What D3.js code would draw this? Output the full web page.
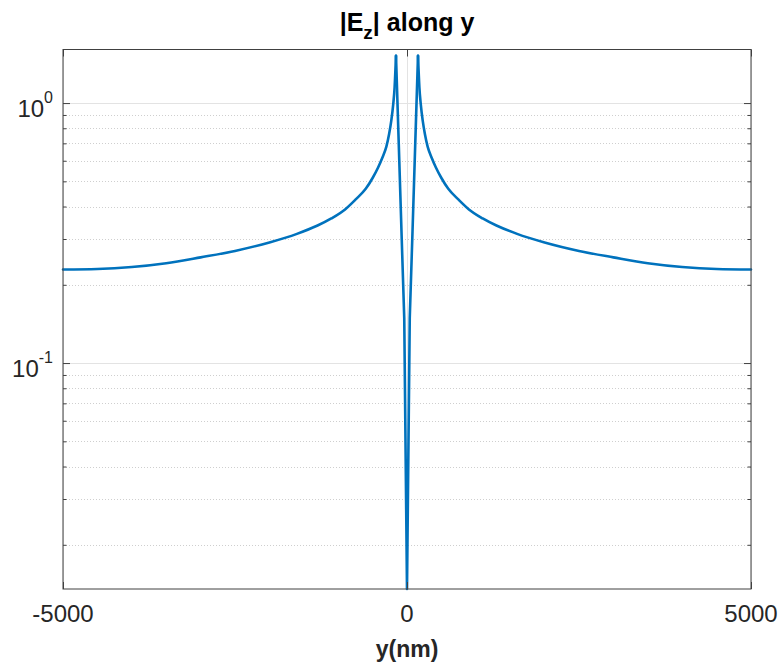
<!DOCTYPE html>
<html>
<head>
<meta charset="utf-8">
<script src="https://cdn.jsdelivr.net/npm/d3@7"></script>
<style>
  html, body { margin: 0; padding: 0; background: #fff; }
  svg { display: block; font-family: "Liberation Sans", Arial, Helvetica, sans-serif; }
</style>
</head>
<body>
<svg id="chart" width="780" height="666"></svg>
<script>
// Position along y (nm) and field magnitude |Ez|
const positions = [
  -5000, -4500, -4000, -3500, -3000, -2500, -2000, -1600, -1300, -1100,
  -900, -750, -600, -500, -420, -360, -300, -260, -230, -200, -180, -160,
  -120, -80, -40, 0,
  40, 80, 120,
  160, 180, 200, 230, 260, 300, 360, 420, 500, 600, 750, 900,
  1100, 1300, 1600, 2000, 2500, 3000, 3500, 4000, 4500, 5000
];
const ezMagnitude = [
  0.229, 0.230, 0.234, 0.242, 0.255, 0.270, 0.291, 0.314, 0.338, 0.360,
  0.390, 0.425, 0.468, 0.515, 0.565, 0.615, 0.680, 0.760, 0.850, 0.990, 1.15, 1.52,
  0.70, 0.32, 0.149, 0.01352,
  0.149, 0.32, 0.70,
  1.52, 1.15, 0.990, 0.850, 0.760, 0.680, 0.615, 0.565, 0.515, 0.468, 0.425, 0.390,
  0.360, 0.338, 0.314, 0.291, 0.270, 0.255, 0.242, 0.234, 0.230, 0.229
];
// the two field peaks bounding the central gap (nm)
const peakPositions = [-160, 160];

const xTicks = [-5000, 0, 5000];
const xTickLabels = ["-5000", "0", "5000"];
const yMajorTicks = [0.1, 1];
const yMajorExponents = ["-1", "0"];
const yMinorTicks = [0.02, 0.03, 0.04, 0.05, 0.06, 0.07, 0.08, 0.09,
                     0.2, 0.3, 0.4, 0.5, 0.6, 0.7, 0.8, 0.9];
const xDomain = [-5000, 5000];
const yDomain = [0.01352, 1.607];

const titleMain = "|E";
const titleSub = "z";
const titleRest = "| along y";
const xLabel = "y(nm)";

const svg = d3.select("#chart");
const plotL = 63, plotR = 751, plotT = 49.5, plotB = 589;
const axisColor = "#404040";
const textColor = "#262626";

const x = d3.scaleLinear().domain(xDomain).range([plotL, plotR]);
const y = d3.scaleLog().domain(yDomain).range([plotB, plotT]);

// grid: minor dotted, major solid
const grid = svg.append("g");
grid.selectAll("line.minor").data(yMinorTicks).enter().append("line")
  .attr("x1", plotL).attr("x2", plotR)
  .attr("y1", d => Math.round(y(d)) + 0.5).attr("y2", d => Math.round(y(d)) + 0.5)
  .attr("stroke", "#cfcfcf").attr("stroke-width", 1).attr("stroke-dasharray", "1,2");
grid.selectAll("line.major").data(yMajorTicks).enter().append("line")
  .attr("x1", plotL).attr("x2", plotR)
  .attr("y1", d => Math.round(y(d)) + 0.5).attr("y2", d => Math.round(y(d)) + 0.5)
  .attr("stroke", "#e3e3e3").attr("stroke-width", 1);
grid.selectAll("line.xg").data(xTicks).enter().append("line")
  .attr("x1", d => Math.round(x(d)) + 0.5).attr("x2", d => Math.round(x(d)) + 0.5)
  .attr("y1", plotT).attr("y2", plotB)
  .attr("stroke", "#e3e3e3").attr("stroke-width", 1);

// curve: smooth outer flanks, straight segments across the central gap
const pts = positions.map((p, i) => ({ p, v: ezMagnitude[i] }));
const outerLeft = pts.filter(d => d.p <= peakPositions[0]);
const inner = pts.filter(d => d.p >= peakPositions[0] && d.p <= peakPositions[1]);
const outerRight = pts.filter(d => d.p >= peakPositions[1]);

const smooth = d3.line().x(d => x(d.p)).y(d => y(d.v)).curve(d3.curveMonotoneX);
const straight = d3.line().x(d => x(d.p)).y(d => y(d.v));

[[outerLeft, smooth], [inner, straight], [outerRight, smooth]].forEach(([seg, gen]) => {
  svg.append("path")
    .datum(seg)
    .attr("d", gen)
    .attr("fill", "none")
    .attr("stroke", "#0072BD")
    .attr("stroke-width", 2.6)
    .attr("stroke-linejoin", "round")
    .attr("stroke-linecap", "round");
});

// axes with inward ticks
function styleAxis(g) {
  g.select(".domain").remove();
  g.selectAll(".tick line").attr("stroke", axisColor);
  g.selectAll(".tick text").remove();
}
svg.append("g").attr("transform", `translate(${plotL},0)`)
  .call(d3.axisLeft(y).tickValues(yMajorTicks).tickSize(-7)).call(styleAxis);
svg.append("g").attr("transform", `translate(${plotL},0)`)
  .call(d3.axisLeft(y).tickValues(yMinorTicks).tickSize(-3.5)).call(styleAxis);
svg.append("g").attr("transform", `translate(${plotR},0)`)
  .call(d3.axisRight(y).tickValues(yMajorTicks).tickSize(-7)).call(styleAxis);
svg.append("g").attr("transform", `translate(${plotR},0)`)
  .call(d3.axisRight(y).tickValues(yMinorTicks).tickSize(-3.5)).call(styleAxis);
svg.append("g").attr("transform", `translate(0,${plotB})`)
  .call(d3.axisBottom(x).tickValues(xTicks).tickSize(-7)).call(styleAxis);
svg.append("g").attr("transform", `translate(0,${plotT})`)
  .call(d3.axisTop(x).tickValues(xTicks).tickSize(-7)).call(styleAxis);

// box
svg.append("rect")
  .attr("x", plotL).attr("y", plotT)
  .attr("width", plotR - plotL).attr("height", plotB - plotT)
  .attr("fill", "none").attr("stroke", axisColor).attr("stroke-width", 1);

// y tick labels as powers of ten
yMajorTicks.forEach((v, i) => {
  const t = svg.append("text")
    .attr("x", 53).attr("y", y(v) + 14)
    .attr("text-anchor", "end")
    .attr("fill", textColor)
    .attr("font-size", 24);
  t.append("tspan").text("10");
  t.append("tspan").attr("dy", -14).attr("font-size", 16).text(yMajorExponents[i]);
});

// x tick labels
svg.selectAll("text.xt").data(xTicks).enter().append("text")
  .attr("x", d => x(d)).attr("y", 622)
  .attr("text-anchor", "middle")
  .attr("fill", textColor)
  .attr("font-size", 24)
  .text((d, i) => xTickLabels[i]);

// x label
svg.append("text")
  .attr("x", (plotL + plotR) / 2).attr("y", 657)
  .attr("text-anchor", "middle")
  .attr("fill", textColor)
  .attr("font-size", 23)
  .attr("font-weight", "bold")
  .text(xLabel);

// title
const title = svg.append("text")
  .attr("x", (plotL + plotR) / 2).attr("y", 31)
  .attr("text-anchor", "middle")
  .attr("fill", "#000")
  .attr("font-size", 25)
  .attr("font-weight", "bold");
title.append("tspan").text(titleMain);
title.append("tspan").attr("dy", 8).attr("font-size", 19).text(titleSub);
title.append("tspan").attr("dy", -8).text(titleRest);
</script>
</body>
</html>
